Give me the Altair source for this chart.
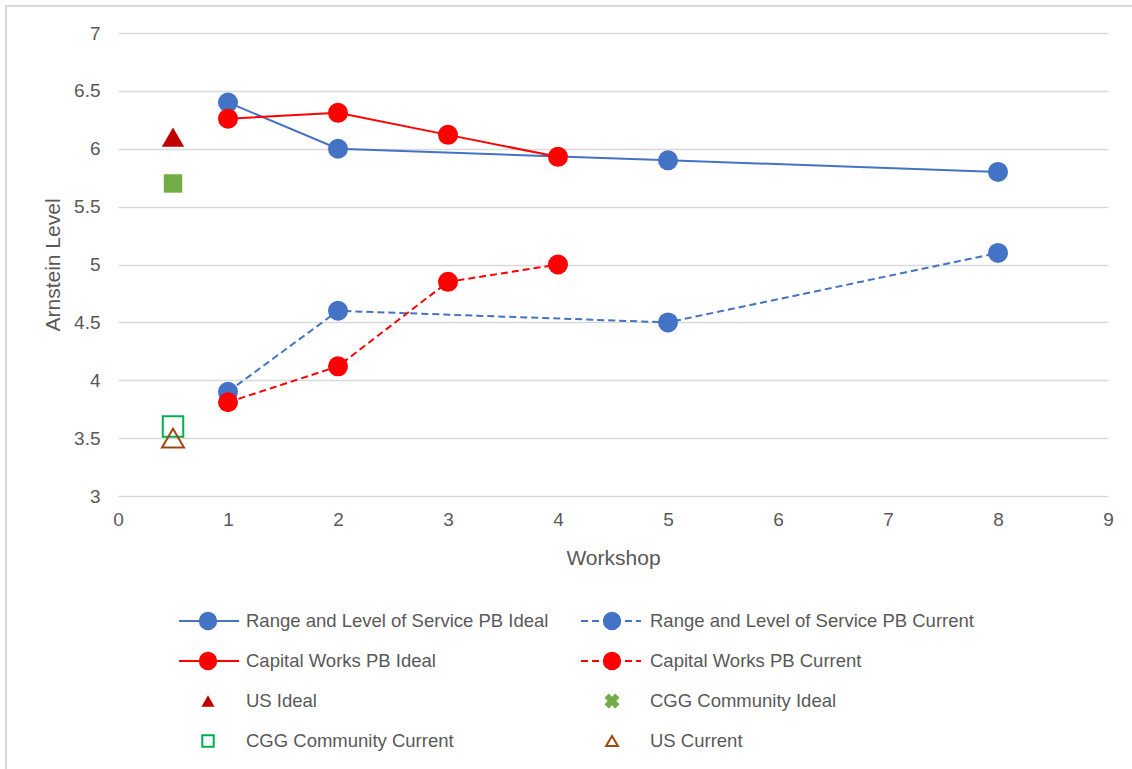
import altair as alt
import pandas as pd

# ---------------- data ----------------
rls_ideal_x = [1, 2, 5, 8]
rls_ideal_y = [6.4, 6.0, 5.9, 5.8]
rls_current_x = [1, 2, 5, 8]
rls_current_y = [3.9, 4.6, 4.5, 5.1]
cw_ideal_x = [1, 2, 3, 4]
cw_ideal_y = [6.26, 6.31, 6.12, 5.93]
cw_current_x = [1, 2, 3, 4]
cw_current_y = [3.81, 4.12, 4.85, 5.0]

single_names = ["US Ideal", "CGG Community Ideal", "CGG Community Current", "US Current"]
single_x = [0.5, 0.5, 0.5, 0.5]
single_y = [6.1, 5.7, 3.6, 3.5]

legend_labels = [
    "Range and Level of Service PB Ideal", "Range and Level of Service PB Current",
    "Capital Works PB Ideal", "Capital Works PB Current",
    "US Ideal", "CGG Community Ideal",
    "CGG Community Current", "US Current",
]
legend_col = [0, 1, 0, 1, 0, 1, 0, 1]
legend_row = [0, 0, 1, 1, 2, 2, 3, 3]

# ---------------- styles ----------------
BLUE = "#4472C4"
RED = "#FF0000"
TXT = "#595959"
GRID = "#D9D9D9"
FONT = "Liberation Sans"

style = {
    "Range and Level of Service PB Ideal": dict(color=BLUE, shape="circle", filled=True, line="solid", size=400, lsize=340),
    "Range and Level of Service PB Current": dict(color=BLUE, shape="circle", filled=True, line="dash", size=400, lsize=340),
    "Capital Works PB Ideal": dict(color=RED, shape="circle", filled=True, line="solid", size=400, lsize=340),
    "Capital Works PB Current": dict(color=RED, shape="circle", filled=True, line="dash", size=400, lsize=340),
    "US Ideal": dict(color="#C00000", shape="triangle-up", filled=True, line=None, size=500, lsize=170),
    "CGG Community Ideal": dict(color="#70AD47", shape="square", filled=True, line=None, size=340, lsize=230),
    "CGG Community Current": dict(color="#00B050", shape="square", filled=False, line=None, size=420, lsize=130),
    "US Current": dict(color="#9E480E", shape="triangle-up", filled=False, line=None, size=480, lsize=140),
}
legend_shape_override = {"CGG Community Ideal": "cross"}
legend_angle_override = {"CGG Community Ideal": 45}

W, H = 990, 463

x_scale = alt.Scale(domain=[0, 9], nice=False, zero=False)
y_scale = alt.Scale(domain=[3, 7], nice=False, zero=False)

x_axis = alt.Axis(values=list(range(10)), grid=False, domain=False, ticks=False,
                  labelFlush=False, labelPadding=14, title="Workshop", titlePadding=18)
y_axis = alt.Axis(values=[3, 3.5, 4, 4.5, 5, 5.5, 6, 6.5, 7], format=".1~f", grid=True,
                  domain=False, ticks=False, tickSize=0, labelPadding=18, labelFlush=False,
                  title="Arnstein Level", titlePadding=10)


def series_layers(name, xs, ys):
    st = style[name]
    df = pd.DataFrame({"Workshop": xs, "Level": ys, "series": name})
    base = alt.Chart(df).encode(
        x=alt.X("Workshop:Q", scale=x_scale, axis=x_axis),
        y=alt.Y("Level:Q", scale=y_scale, axis=y_axis),
    )
    layers = []
    if st["line"] is not None:
        kw = dict(color=st["color"], strokeWidth=2)
        if st["line"] == "dash":
            kw["strokeDash"] = [7, 4]
        layers.append(base.mark_line(**kw))
    if st["filled"]:
        pt = base.mark_point(shape=st["shape"], size=st["size"], filled=True,
                             fill=st["color"], opacity=1, strokeWidth=0)
    else:
        pt = base.mark_point(shape=st["shape"], size=st["size"], filled=False,
                             stroke=st["color"], fill="transparent", opacity=1, strokeWidth=2)
    layers.append(pt)
    return layers


layers = []
layers += series_layers("Range and Level of Service PB Ideal", rls_ideal_x, rls_ideal_y)
layers += series_layers("Range and Level of Service PB Current", rls_current_x, rls_current_y)
layers += series_layers("Capital Works PB Ideal", cw_ideal_x, cw_ideal_y)
layers += series_layers("Capital Works PB Current", cw_current_x, cw_current_y)
for n, xv, yv in zip(single_names, single_x, single_y):
    layers += series_layers(n, [xv], [yv])

main = alt.layer(*layers)

# decorative outer frame of the picture
frame = alt.Chart(pd.DataFrame({"k": [0]})).mark_rect(
    fill="transparent", stroke=GRID, strokeWidth=2
).encode(x=alt.value(-112), x2=alt.value(W + 40), y=alt.value(-27), y2=alt.value(H + 320))

# ---------------- legend (drawn below the plot) ----------------
leg = pd.DataFrame({"label": legend_labels, "col": legend_col, "row": legend_row})
leg["color"] = [style[l]["color"] for l in legend_labels]
leg["shape"] = [legend_shape_override.get(l, style[l]["shape"]) for l in legend_labels]
leg["angle"] = [legend_angle_override.get(l, 0) for l in legend_labels]
leg["line"] = [style[l]["line"] or "none" for l in legend_labels]
leg["filled"] = [style[l]["filled"] for l in legend_labels]
leg["lsize"] = [style[l]["lsize"] for l in legend_labels]

lx = alt.Scale(domain=[0, 1], range=[90, 494])
ly = alt.Scale(domain=[0, 3], range=[H + 125, H + 245])
lbase = alt.Chart(leg).encode(
    x=alt.X("col:Q", scale=lx, axis=None),
    y=alt.Y("row:Q", scale=ly, axis=None),
)
solid = lbase.transform_filter("datum.line == 'solid'").mark_rule(
    strokeWidth=2, xOffset=-29, x2Offset=31
).encode(x2=alt.X2("col"), color=alt.Color("color:N", scale=None))
dashed = lbase.transform_filter("datum.line == 'dash'").mark_rule(
    strokeWidth=2, strokeDash=[7, 4], xOffset=-31, x2Offset=29
).encode(x2=alt.X2("col"), color=alt.Color("color:N", scale=None))
filled_pts = lbase.transform_filter("datum.filled").mark_point(
    filled=True, opacity=1, strokeWidth=0
).encode(shape=alt.Shape("shape:N", scale=None),
         fill=alt.Color("color:N", scale=None),
         size=alt.Size("lsize:Q", scale=None),
         angle=alt.Angle("angle:Q", scale=None))
hollow_pts = lbase.transform_filter("!datum.filled").mark_point(
    filled=False, opacity=1, strokeWidth=2, fill="transparent"
).encode(shape=alt.Shape("shape:N", scale=None),
         stroke=alt.Color("color:N", scale=None),
         size=alt.Size("lsize:Q", scale=None))
labels = lbase.mark_text(align="left", baseline="middle", dx=38, font=FONT,
                         fontSize=18.5, color=TXT).encode(text="label:N")

legend = alt.layer(solid, dashed, filled_pts, hollow_pts, labels)

chart = alt.layer(frame, main, legend).resolve_scale(
    x="independent", y="independent"
).properties(
    width=W, height=H,
    padding={"left": 118, "top": 33, "right": 24, "bottom": 273},
    autosize=alt.AutoSizeParams(type="none"),
    background="white",
).configure_view(strokeWidth=0).configure_axis(
    labelFont=FONT, titleFont=FONT, labelColor=TXT, titleColor=TXT,
    labelFontSize=19, titleFontSize=21, titleFontWeight="normal",
    gridColor=GRID, gridWidth=1.5,
)

chart.save("out.html", embed_options={"renderer": "svg", "actions": False})
